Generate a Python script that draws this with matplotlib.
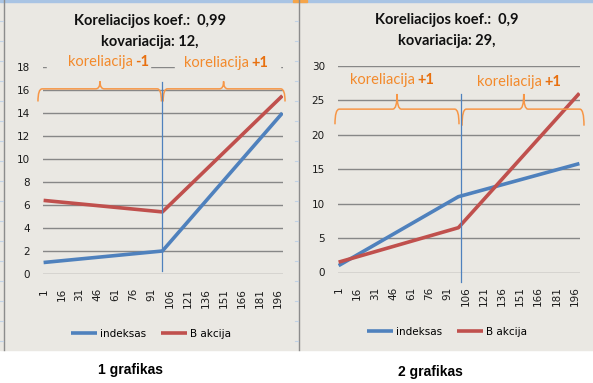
import matplotlib
matplotlib.use("Agg")
import matplotlib.pyplot as plt
from matplotlib.patches import Rectangle, PathPatch
from matplotlib.path import Path
from matplotlib.lines import Line2D

W, H = 593, 383

# --- data ---
X_1 = [1, 100, 200]
INDEKSAS_1 = [1.0, 2.0, 14.0]
AKCIJA_1 = [6.4, 5.4, 15.5]

X_2 = [1, 100, 200]
INDEKSAS_2 = [1.0, 11.0, 15.8]
AKCIJA_2 = [1.5, 6.5, 26.0]

X_TICKS = [1, 16, 31, 46, 61, 76, 91, 106, 121, 136, 151, 166, 181, 196]
Y_TICKS_1 = [0, 2, 4, 6, 8, 10, 12, 14, 16, 18]
Y_TICKS_2 = [0, 5, 10, 15, 20, 25, 30]

TITLES_1 = ["Koreliacijos koef.:  0,99", "kovariacija: 12,"]
TITLES_2 = ["Koreliacijos koef.:  0,9", "kovariacija: 29,"]
CAPTIONS = ["1 grafikas", "2 grafikas"]
SERIES = ["indeksas", "B akcija"]

BG = "#EAE8E3"
BLUE = "#4F81BD"
RED = "#C0504D"
ORANGE = "#F79646"
ORANGE_TXT = "#F38A2C"
ORANGE_BOLD = "#E8700F"
GRID = "#878787"


def px(x, y):
    # pixel coords (top-left origin) -> figure fraction
    return x / W, 1 - y / H


def add_axes(x0, x1, ytop, ybot):
    return fig.add_axes([x0 / W, 1 - ybot / H, (x1 - x0) / W, (ybot - ytop) / H])


def brace(ax, x0, x1, xp, ybase, yend, ypeak, dx):
    verts = [(x0, yend), (x0, ybase), (x0 + dx, ybase),
             (xp - dx, ybase), (xp, ybase), (xp, ypeak),
             (xp, ybase), (xp + dx, ybase),
             (x1 - dx, ybase), (x1, ybase), (x1, yend)]
    codes = [Path.MOVETO, Path.CURVE3, Path.CURVE3,
             Path.LINETO, Path.CURVE3, Path.CURVE3,
             Path.CURVE3, Path.CURVE3,
             Path.LINETO, Path.CURVE3, Path.CURVE3]
    ax.add_patch(PathPatch(Path(verts, codes), fill=False, ec=ORANGE,
                           lw=1.1, clip_on=False, zorder=4))


def label(x, y, sign):
    # "koreliacija" normal, sign bold, both orange
    fx, fy = px(x, y)
    fig.text(fx, fy, "koreliacija", color=ORANGE_TXT, fontsize=10.5,
             family="Lato", ha="right", va="center")
    fig.text(fx + 2 / W, fy, sign, color=ORANGE_BOLD, fontsize=10.5,
             family="Lato", weight="bold", ha="left", va="center")


def style(ax, yticks, ymax):
    ax.set_facecolor("none")
    ax.set_xlim(0.5, 200.5)
    ax.set_ylim(0, ymax)
    ax.set_yticks(yticks)
    ax.set_xticks(X_TICKS)
    ax.set_xticklabels([str(t) for t in X_TICKS], rotation=90)
    ax.tick_params(axis="x", length=0, pad=10, labelsize=7.5, labelcolor="#1a1a1a")
    ax.tick_params(axis="y", length=0, pad=9.5, labelsize=7.5, labelcolor="#1a1a1a")
    ax.yaxis.grid(True, color=GRID, lw=1.0)
    ax.set_axisbelow(True)
    for s in ax.spines.values():
        s.set_visible(False)


fig = plt.figure(figsize=(W / 100, H / 100), dpi=100)
fig.patch.set_facecolor("white")

# spreadsheet background
fig.patches.append(Rectangle((0, 1 - 350 / H), 1, 350 / H, transform=fig.transFigure,
                             color=BG, zorder=-10))
fig.patches.append(Rectangle((0, 1 - 1.5 / H), 1, 1.5 / H, transform=fig.transFigure,
                             color="#A9C4E4", zorder=-9))
fig.patches.append(Rectangle((293 / W, 1 - 2 / H), 14 / W, 2 / H, transform=fig.transFigure,
                             color="#F5A54A", zorder=-9))
for xl in [3.5, 298.5]:
    fig.lines.append(Line2D([xl / W, xl / W], [1 - 350 / H, 1], transform=fig.transFigure,
                            color="#8C8C8C", lw=1.0, zorder=-8))
    for yr in range(21, 350, 20):
        fig.lines.append(Line2D([(xl - 3.5) / W, (xl - 1) / W], [1 - yr / H] * 2,
                                transform=fig.transFigure, color="#C3D3E6", lw=0.8, zorder=-8))

# ---- chart 1 ----
ax1 = add_axes(43, 283, 67, 274)
style(ax1, Y_TICKS_1, 18)
l1, = ax1.plot(X_1, INDEKSAS_1, color=BLUE, lw=2.6, solid_capstyle="butt")
l2, = ax1.plot(X_1, AKCIJA_1, color=RED, lw=2.6, solid_capstyle="butt")
ax1.plot([99.7, 99.7], [0.25, 16.7], color=BLUE, lw=0.9, clip_on=False, zorder=5)
brace(ax1, -3.7, 99.2, 48, 16.1, 15.0, 16.75, 3.5)
brace(ax1, 100.6, 202.2, 151, 16.1, 15.0, 16.75, 3.5)
ax1.legend([l1, l2], SERIES, loc="center", bbox_to_anchor=(*px(151, 334),),
           bbox_transform=fig.transFigure, ncol=2, frameon=False, fontsize=7.5,
           handlelength=2.5, handletextpad=0.3, columnspacing=1.4)

# gaps in the 18 gridline behind the text boxes
for x0, x1 in [(47, 150), (175, 280)]:
    fig.patches.append(Rectangle(px(x0, 72), (x1 - x0) / W, 10 / H,
                                 transform=fig.transFigure, color=BG, zorder=1))

# ---- chart 2 ----
ax2 = add_axes(338, 580, 65.7, 272.5)
style(ax2, Y_TICKS_2, 30)
m1, = ax2.plot(X_2, INDEKSAS_2, color=BLUE, lw=2.6, solid_capstyle="butt")
m2, = ax2.plot(X_2, AKCIJA_2, color=RED, lw=2.6, solid_capstyle="butt")
ax2.plot([101.9, 101.9], [-1.4, 25.9], color=BLUE, lw=0.9, clip_on=False, zorder=5)
brace(ax2, -2.0, 100.5, 49.3, 23.7, 21.5, 25.9, 3.5)
brace(ax2, 103.0, 203.8, 154, 23.7, 21.3, 25.9, 3.5)
ax2.legend([m1, m2], SERIES, loc="center", bbox_to_anchor=(*px(447, 332),),
           bbox_transform=fig.transFigure, ncol=2, frameon=False, fontsize=7.5,
           handlelength=2.5, handletextpad=0.3, columnspacing=1.4)

# titles
for (cx, ys), lines in [((150, (21, 42)), TITLES_1), ((447, (20, 41)), TITLES_2)]:
    for y, t in zip(ys, lines):
        fig.text(*px(cx, y), t, ha="center", va="center", fontsize=10.5,
                 family="Lato", weight="bold", color="#111111")

# orange annotations
label(133, 62, "-1")
label(249, 63, "+1")
label(415, 80, "+1")
label(542, 82, "+1")

# captions under the charts
fig.text(*px(130, 370), CAPTIONS[0], ha="center", va="center", fontsize=10,
         family="Liberation Sans", weight="bold")
fig.text(*px(430, 372), CAPTIONS[1], ha="center", va="center", fontsize=10,
         family="Liberation Sans", weight="bold")

fig.savefig("out.png", dpi=100, facecolor=fig.get_facecolor())
